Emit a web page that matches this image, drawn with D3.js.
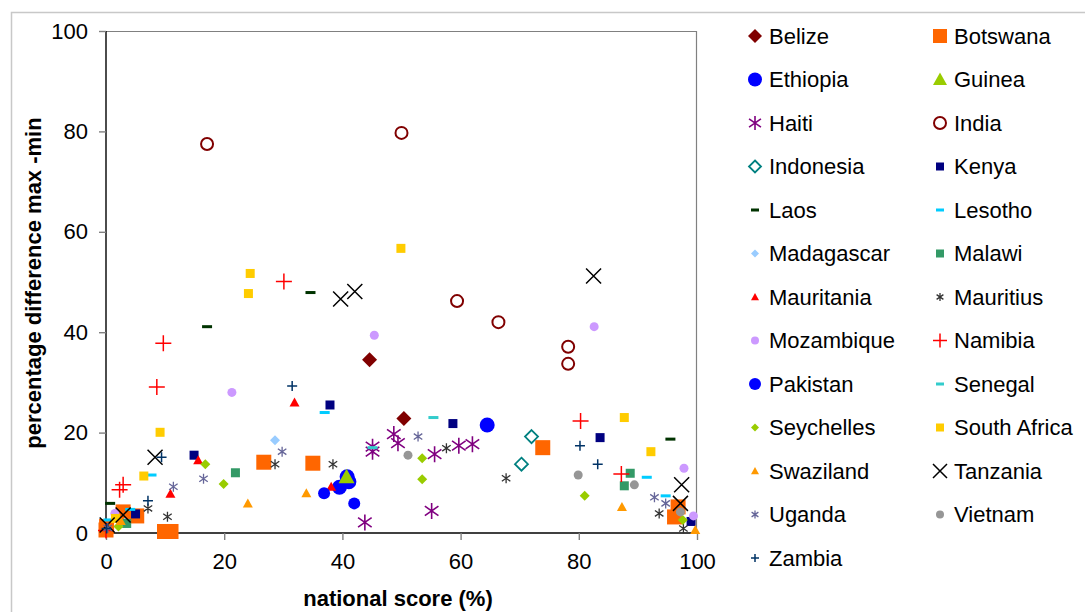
<!DOCTYPE html>
<html><head><meta charset="utf-8">
<script src="https://cdn.jsdelivr.net/npm/d3@7"></script>
<style>body{margin:0;background:#fff}svg{display:block;font-family:"Liberation Sans",Arial,sans-serif}</style>
</head><body><svg id="c" width="1085" height="612"></svg>
<script>
// ---- data: [national score %, percentage difference max-min]
const belize = [[44.6,34.5],[50.4,22.8]];
const botswana = [[26.7,14.1],[35.0,13.9],[73.9,17.0],[9.9,0.3],[11.0,0.3],[5.2,3.4],[2.9,4.2],[0.1,1.3],[0,0.6],[96.8,5.2],[96.2,3.2]];
const ethiopia = [[64.5,21.5],[40.8,11.2],[41.1,10.2],[39.5,9.1]];
const guinea = [[40.7,11.2]];
const haiti = [[48.7,19.7],[49.4,17.9],[45.1,17.2],[45.1,16.2],[55.6,15.7],[59.7,17.4],[62.0,17.7],[55.1,4.4],[43.8,2.1]];
const india = [[17.1,77.5],[50.0,79.7],[59.4,46.2],[66.4,42.0],[78.2,37.1],[78.2,33.7]];
const indonesia = [[72.0,19.2],[70.3,13.7]];
const kenya = [[14.9,15.5],[37.9,25.5],[58.7,21.8],[83.6,19.0],[5.0,3.8],[99.0,2.3]];
const laos = [[0.7,5.9],[17.1,41.1],[34.6,47.9],[95.5,18.7]];
const lesotho = [[7.7,11.55],[37.0,24.0],[4.1,4.7],[0.4,2.6],[91.5,11.1],[94.7,7.4]];
const madagascar = [[28.6,18.5],[3.2,2.1]];
const malawi = [[21.9,12.0],[3.5,1.9],[88.7,11.9],[87.7,9.4]];
const mauritania = [[15.6,14.5],[10.9,7.8],[31.9,26.0],[38.1,9.2]];
const mauritius = [[28.6,13.7],[7.1,4.9],[10.4,3.25],[38.4,13.7],[57.6,16.9],[67.7,10.9],[93.6,3.9],[97.7,0.9]];
const mozambique = [[1.5,3.9],[21.3,28.0],[45.4,39.4],[82.6,41.1],[97.8,12.9],[99.4,3.4]];
const namibia = [[2.9,9.6],[2.3,8.6],[9.7,37.8],[8.6,29.1],[30.1,50.1],[80.3,22.3],[87.2,11.75],[0,0.5]];
const pakistan = [[36.9,7.9],[42.0,5.9]];
const senegal = [[55.4,23.0],[45.1,17.0]];
const seychelles = [[16.8,13.7],[19.9,9.76],[53.5,14.9],[53.5,10.7],[81.0,7.4],[97.6,2.6],[2.1,1.3]];
const southAfrica = [[9.15,20.06],[6.4,11.35],[24.4,51.7],[24.1,47.7],[49.9,56.7],[87.7,23.0],[92.2,16.2],[1.6,2.9]];
const swaziland = [[24.0,5.9],[33.9,7.9],[87.3,5.2],[99.7,0.6],[2.5,2.4]];
const tanzania = [[8.3,15.1],[39.7,46.6],[42.1,48.1],[82.5,51.2],[97.4,9.6],[97.2,5.9],[2.9,3.6],[0.2,1.6]];
const uganda = [[29.8,16.2],[16.5,10.8],[11.4,9.2],[52.8,19.2],[92.8,7.1],[94.7,5.9],[0.3,1.0]];
const vietnam = [[51.1,15.5],[79.9,11.55],[89.4,9.6],[97.2,4.2]];
const zambia = [[9.4,15.1],[31.5,29.3],[7.1,6.4],[80.2,17.4],[83.2,13.7],[0.1,0.9]];

const countries = ["Belize","Botswana","Ethiopia","Guinea","Haiti","India","Indonesia","Kenya","Laos","Lesotho","Madagascar","Malawi","Mauritania","Mauritius","Mozambique","Namibia","Pakistan","Senegal","Seychelles","South Africa","Swaziland","Tanzania","Uganda","Vietnam","Zambia"];
const seriesValues = [belize,botswana,ethiopia,guinea,haiti,india,indonesia,kenya,laos,lesotho,madagascar,malawi,mauritania,mauritius,mozambique,namibia,pakistan,senegal,seychelles,southAfrica,swaziland,tanzania,uganda,vietnam,zambia];
const xTicks = [0,20,40,60,80,100];
const yTicks = [0,20,40,60,80,100];

// ---- styles
const styles = {
  "Belize":{t:"diamond",c:"#800000",s:15},
  "Botswana":{t:"square",c:"#FF6600",s:15},
  "Ethiopia":{t:"circle",c:"#0000FF",s:15},
  "Guinea":{t:"triangle",c:"#99CC00",s:16},
  "Haiti":{t:"star",c:"#800080",s:16,sw:1.6},
  "India":{t:"ocircle",c:"#800000",s:14},
  "Indonesia":{t:"odiamond",c:"#008080",s:15},
  "Kenya":{t:"square",c:"#000080",s:9},
  "Laos":{t:"dash",c:"#003300",s:10},
  "Lesotho":{t:"dash",c:"#00CCFF",s:10},
  "Madagascar":{t:"diamond",c:"#99CCFF",s:10},
  "Malawi":{t:"square",c:"#339966",s:9},
  "Mauritania":{t:"triangle",c:"#FF0000",s:10},
  "Mauritius":{t:"star",c:"#333333",s:10,sw:1.3},
  "Mozambique":{t:"circle",c:"#CC99FF",s:9},
  "Namibia":{t:"plus",c:"#FF0000",s:16,sw:1.5},
  "Pakistan":{t:"circle",c:"#0000FF",s:12},
  "Senegal":{t:"dash",c:"#33CCCC",s:10},
  "Seychelles":{t:"diamond",c:"#99CC00",s:10},
  "South Africa":{t:"square",c:"#FFCC00",s:9},
  "Swaziland":{t:"triangle",c:"#FF9900",s:10},
  "Tanzania":{t:"x",c:"#000000",s:15,sw:1.5},
  "Uganda":{t:"star",c:"#666699",s:10,sw:1.3},
  "Vietnam":{t:"circle",c:"#969696",s:9},
  "Zambia":{t:"plus",c:"#003366",s:10,sw:1.5}
};

function drawMarker(g, st, size){
  const s = size, h = s/2;
  switch(st.t){
    case "diamond": g.append("path").attr("d",`M0,${-h}L${h},0L0,${h}L${-h},0Z`).attr("fill",st.c); break;
    case "odiamond": g.append("path").attr("d",`M0,${-h+1}L${h-1},0L0,${h-1}L${-h+1},0Z`).attr("fill","none").attr("stroke",st.c).attr("stroke-width",1.8); break;
    case "square": g.append("rect").attr("x",-h).attr("y",-h).attr("width",s).attr("height",s).attr("fill",st.c); break;
    case "circle": g.append("circle").attr("r",h).attr("fill",st.c); break;
    case "ocircle": g.append("circle").attr("r",h-1).attr("fill","none").attr("stroke",st.c).attr("stroke-width",2); break;
    case "triangle": g.append("path").attr("d",`M0,${-h}L${h},${h*0.8}L${-h},${h*0.8}Z`).attr("fill",st.c); break;
    case "dash": g.append("rect").attr("x",-h).attr("y",-1.5).attr("width",s).attr("height",3).attr("fill",st.c); break;
    case "plus": g.append("path").attr("d",`M${-h},0L${h},0M0,${-h}L0,${h}`).attr("stroke",st.c).attr("stroke-width",st.sw||1.5).attr("fill","none"); break;
    case "x": g.append("path").attr("d",`M${-h},${-h}L${h},${h}M${-h},${h}L${h},${-h}`).attr("stroke",st.c).attr("stroke-width",st.sw||1.5).attr("fill","none"); break;
    case "star": { const a=h*0.85; g.append("path").attr("d",`M${-a},${-a*0.7}L${a},${a*0.7}M${-a},${a*0.7}L${a},${-a*0.7}M0,${-h}L0,${h}`).attr("stroke",st.c).attr("stroke-width",st.sw||1.4).attr("fill","none"); break; }
  }
}

const svg = d3.select("#c");
svg.append("rect").attr("width",1085).attr("height",612).attr("fill","#fff");
svg.append("rect").attr("x",11.5).attr("y",12.5).attr("width",1100).attr("height",700).attr("fill","none").attr("stroke","#c8c8c8").attr("stroke-width",1.5);

const L=106, R=697, T=31, B=533;
const x = d3.scaleLinear().domain([0,100]).range([L,R]);
const y = d3.scaleLinear().domain([0,100]).range([B,T]);

// plot frame (top/right grey)
svg.append("path").attr("d",`M${L},${T+0.5}H${R-0.5}V${B}`).attr("fill","none").attr("stroke","#808080").attr("stroke-width",1.2);

// axes
const yAxis = d3.axisLeft(y).tickValues(yTicks).tickSize(7).tickPadding(11);
const xAxis = d3.axisBottom(x).tickValues(xTicks).tickSize(7).tickPadding(13);
const gy = svg.append("g").attr("transform",`translate(${L},0)`).call(yAxis);
const gx = svg.append("g").attr("transform",`translate(0,${B})`).call(xAxis);
[gy,gx].forEach(g=>{
  g.select(".domain").attr("stroke","#000").attr("stroke-width",1.4);
  g.selectAll(".tick line").attr("stroke","#808080").attr("stroke-width",1.4);
  g.selectAll(".tick text").attr("font-size",22).attr("fill","#000").attr("font-family","Liberation Sans, Arial, sans-serif");
});
gx.select(".domain").attr("d",`M${L},0H${R}`);
gy.select(".domain").attr("d",`M0,${T}V${B}`);

// titles
svg.append("text").attr("x",398).attr("y",606).attr("text-anchor","middle").attr("font-weight","bold").attr("font-size",22).text("national score (%)");
svg.append("text").attr("transform","translate(41,283) rotate(-90)").attr("text-anchor","middle").attr("font-weight","bold").attr("font-size",22).text("percentage difference max -min");

// points
const plot = svg.append("g");
countries.forEach((name,i)=>{
  const st = styles[name];
  seriesValues[i].forEach(d=>{
    const g = plot.append("g").attr("transform",`translate(${x(d[0])},${y(d[1])})`);
    drawMarker(g, st, st.s);
  });
});

// legend
const leg = svg.append("g");
countries.forEach((name,i)=>{
  const col = i%2, row = Math.floor(i/2);
  const mx = col===0 ? 755 : 940;
  const tx = col===0 ? 769 : 954;
  const cy = 36 + row*43.5;
  const st = styles[name];
  const ls = st.s>=13 ? 14 : (st.s>=12 ? 12 : 8);
  const g = leg.append("g").attr("transform",`translate(${mx},${cy})`);
  drawMarker(g, st, ls);
  leg.append("text").attr("x",tx).attr("y",cy).attr("dy","0.36em").attr("font-size",22).attr("fill","#000").text(name);
});
</script></body></html>
